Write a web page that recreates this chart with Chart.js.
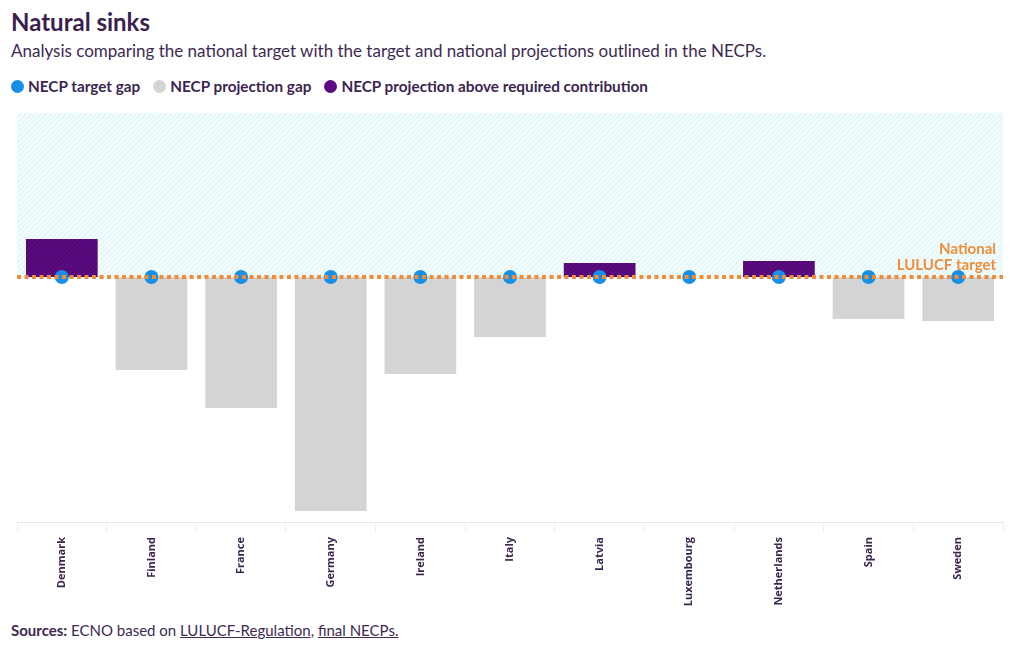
<!DOCTYPE html>
<html>
<head>
<meta charset="utf-8">
<script src="https://cdn.jsdelivr.net/npm/chart.js@4"></script>
<style>
  body { margin: 0; background: #fff; width: 1020px; height: 650px; position: relative; font-family: Lato, sans-serif; color: #3b2650; overflow: hidden; }
  h1 { position: absolute; left: 11px; top: 7px; margin: 0; font-size: 24px; font-weight: 700; color: #3b1f4e; }
  .sub { position: absolute; left: 11px; top: 40px; font-size: 17px; color: #3d2a50; }
  .legend { position: absolute; left: 11px; top: 77px; font-size: 15.3px; font-weight: 700; color: #3b2650; display: flex; }
  .legend span { display: flex; align-items: center; margin-right: 13px; }
  .legend i { display: inline-block; width: 13px; height: 13px; border-radius: 50%; margin-right: 4px; }
  .src { position: absolute; left: 11px; top: 621px; font-size: 15px; color: #3d2a50; }
  .src u { text-decoration: underline; }
  #wrap { position: absolute; left: 0; top: 100px; width: 1020px; height: 510px; }
</style>
</head>
<body>
<h1>Natural sinks</h1>
<div class="sub">Analysis comparing the national target with the target and national projections outlined in the NECPs.</div>
<div class="legend">
  <span><i style="background:#1690e6"></i>NECP target gap</span>
  <span><i style="background:#d4d4d4"></i>NECP projection gap</span>
  <span><i style="background:#5b0a80"></i>NECP projection above required contribution</span>
</div>
<div id="wrap"><canvas id="chart"></canvas></div>
<div class="src"><b>Sources:</b> ECNO based on <u>LULUCF-Regulation</u>, <u>final NECPs.</u></div>

<script>
const countries = ['Denmark', 'Finland', 'France', 'Germany', 'Ireland', 'Italy', 'Latvia', 'Luxembourg', 'Netherlands', 'Spain', 'Sweden'];
// NECP projection minus national target (arbitrary units)
const projectionAbove = [3.8, null, null, null, null, null, 1.4, null, 1.6, null, null];
const projectionGap = [null, -9.3, -13.1, -23.4, -9.7, -6.0, null, 0, null, -4.2, -4.4];
const targetGap = [0, 0, 0, 0, 0, 0, 0, 0, 0, 0, 0];
const nationalTarget = 0;
const yMin = -24.5;
const yMax = 16.4;

// diagonal hatch pattern
function hatch(bg, line, size) {
    const c = document.createElement('canvas');
    c.width = size;
    c.height = size;
    const x = c.getContext('2d');
    x.fillStyle = bg;
    x.fillRect(0, 0, size, size);
    x.strokeStyle = line;
    x.lineWidth = 1;
    x.beginPath();
    x.moveTo(0, size); x.lineTo(size, 0);
    x.moveTo(-1, 1); x.lineTo(1, -1);
    x.moveTo(size - 1, size + 1); x.lineTo(size + 1, size - 1);
    x.stroke();
    return x.createPattern(c, 'repeat');
}

const skyPattern = hatch('#f3fcfd', '#d6f2f6', 5);
const purplePattern = hatch('#5b0a80', '#47066a', 5);

// shaded zone above the target, target line and its label
const targetPlugin = {
    id: 'target',
    beforeDatasetsDraw(chart) {
        const { ctx, chartArea, scales } = chart;
        const y0 = scales.y.getPixelForValue(nationalTarget);
        ctx.save();
        ctx.fillStyle = skyPattern;
        ctx.fillRect(chartArea.left, chartArea.top, chartArea.right - chartArea.left, y0 - chartArea.top);
        ctx.restore();
    },
    afterDatasetsDraw(chart) {
        const { ctx, chartArea, scales } = chart;
        const y0 = scales.y.getPixelForValue(nationalTarget);
        ctx.save();
        ctx.strokeStyle = '#f08c3a';
        ctx.lineWidth = 4;
        ctx.setLineDash([4, 3.5]);
        ctx.beginPath();
        ctx.moveTo(chartArea.left, y0);
        ctx.lineTo(chartArea.right, y0);
        ctx.stroke();
        ctx.fillStyle = '#f08c3a';
        ctx.font = 'bold 15px Lato';
        ctx.textAlign = 'right';
        ctx.textBaseline = 'middle';
        ctx.fillText('National', chartArea.right - 7, y0 - 28);
        ctx.fillText('LULUCF target', chartArea.right - 7, y0 - 12);
        ctx.restore();
    }
};

new Chart(document.getElementById('chart'), {
    type: 'bar',
    data: {
        labels: countries,
        datasets: [
            {
                type: 'line',
                label: 'NECP target gap',
                data: targetGap,
                showLine: false,
                pointRadius: 7,
                pointBackgroundColor: '#1690e6',
                pointBorderWidth: 0,
                order: 0
            },
            {
                label: 'NECP projection above required contribution',
                data: projectionAbove,
                backgroundColor: purplePattern,
                categoryPercentage: 0.8,
                barPercentage: 1,
                order: 1
            },
            {
                label: 'NECP projection gap',
                data: projectionGap,
                backgroundColor: '#d4d4d4',
                categoryPercentage: 0.8,
                barPercentage: 1,
                order: 1
            }
        ]
    },
    options: {
        responsive: true,
        maintainAspectRatio: false,
        animation: false,
        layout: { padding: { top: 13, left: 17, right: 17, bottom: 0 } },
        plugins: {
            legend: { display: false },
            tooltip: { enabled: false }
        },
        scales: {
            x: {
                stacked: true,
                grid: { drawOnChartArea: false, drawTicks: true, tickLength: 10, tickColor: '#eeeeee' },
                border: { color: '#e6e6e6' },
                ticks: {
                    maxRotation: 90,
                    minRotation: 90,
                    padding: 5,
                    color: '#3b2650',
                    font: { family: 'Open Sans', weight: 'bold', size: 11 }
                },
                afterFit(scale) { scale.height = 88; }
            },
            y: {
                stacked: true,
                display: false,
                min: yMin,
                max: yMax
            }
        }
    },
    plugins: [targetPlugin]
});
</script>
</body>
</html>
